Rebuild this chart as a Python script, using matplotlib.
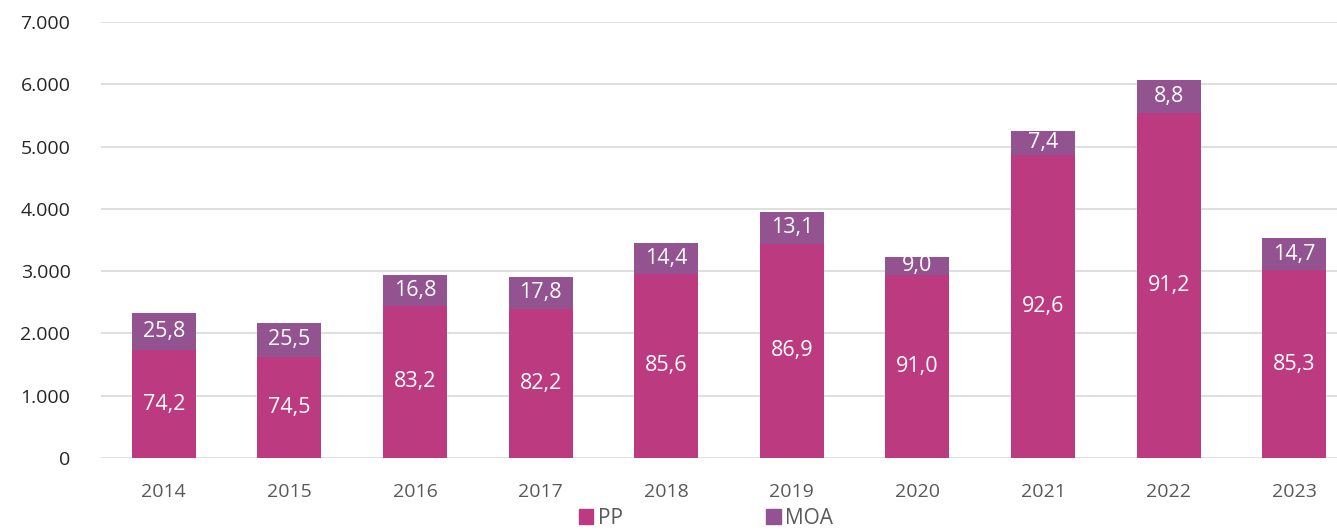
import matplotlib.pyplot as plt
from matplotlib.patches import Patch
import numpy as np

years = ['2014', '2015', '2016', '2017', '2018', '2019', '2020', '2021', '2022', '2023']
totals = [2330, 2175, 2940, 2910, 3455, 3955, 3230, 5255, 6070, 3535]
pp_pct = [74.2, 74.5, 83.2, 82.2, 85.6, 86.9, 91.0, 92.6, 91.2, 85.3]
moa_pct = [25.8, 25.5, 16.8, 17.8, 14.4, 13.1, 9.0, 7.4, 8.8, 14.7]

pp_color = '#BC3A80'
moa_color = '#935290'

plt.rcParams['font.family'] = ['Open Sans', 'DejaVu Sans']

pp_vals = np.array(totals) * np.array(pp_pct) / 100
moa_vals = np.array(totals) * np.array(moa_pct) / 100
x = np.arange(len(years))

fig = plt.figure(figsize=(13.37, 5.32), dpi=100)
ax = fig.add_axes([101 / 1337, (532 - 458) / 532, 1 - 101 / 1337, 436 / 532])

w = 0.51
ax.bar(x, pp_vals, w, color=pp_color, zorder=3)
ax.bar(x, moa_vals, w, bottom=pp_vals, color=moa_color, zorder=3)

for i in range(len(years)):
    ax.text(x[i], pp_vals[i] / 2, f'{pp_pct[i]:.1f}'.replace('.', ','),
            ha='center', va='center', color='white', fontsize=15.5, zorder=4)
    ax.text(x[i], pp_vals[i] + moa_vals[i] / 2, f'{moa_pct[i]:.1f}'.replace('.', ','),
            ha='center', va='center', color='white', fontsize=15.5, zorder=4)

ax.set_ylim(0, 7000)
ax.set_xlim(-0.5, 9.34)
ax.set_yticks(range(0, 7001, 1000))
ax.set_yticklabels(['0'] + [f'{v // 1000}.000' for v in range(1000, 7001, 1000)])
ax.set_xticks(x)
ax.set_xticklabels(years)
ax.grid(axis='y', color='#D9D9D9', linewidth=1.2, zorder=0)
for s in ax.spines.values():
    s.set_visible(False)
ax.tick_params(axis='both', length=0, labelsize=14)
ax.tick_params(axis='y', pad=22, labelcolor='#262626')
ax.tick_params(axis='x', pad=18, labelcolor='#595959')

handles = [Patch(color=pp_color, label='PP'), Patch(color=moa_color, label='MOA')]
fig.legend(handles=handles, loc='center', bbox_to_anchor=(0.528, 0.026), ncol=2,
           frameon=False, fontsize=15, handlelength=0.7, handleheight=0.7,
           columnspacing=6.9, handletextpad=0.2, labelcolor='#595959')

fig.savefig('out.png', dpi=100)
